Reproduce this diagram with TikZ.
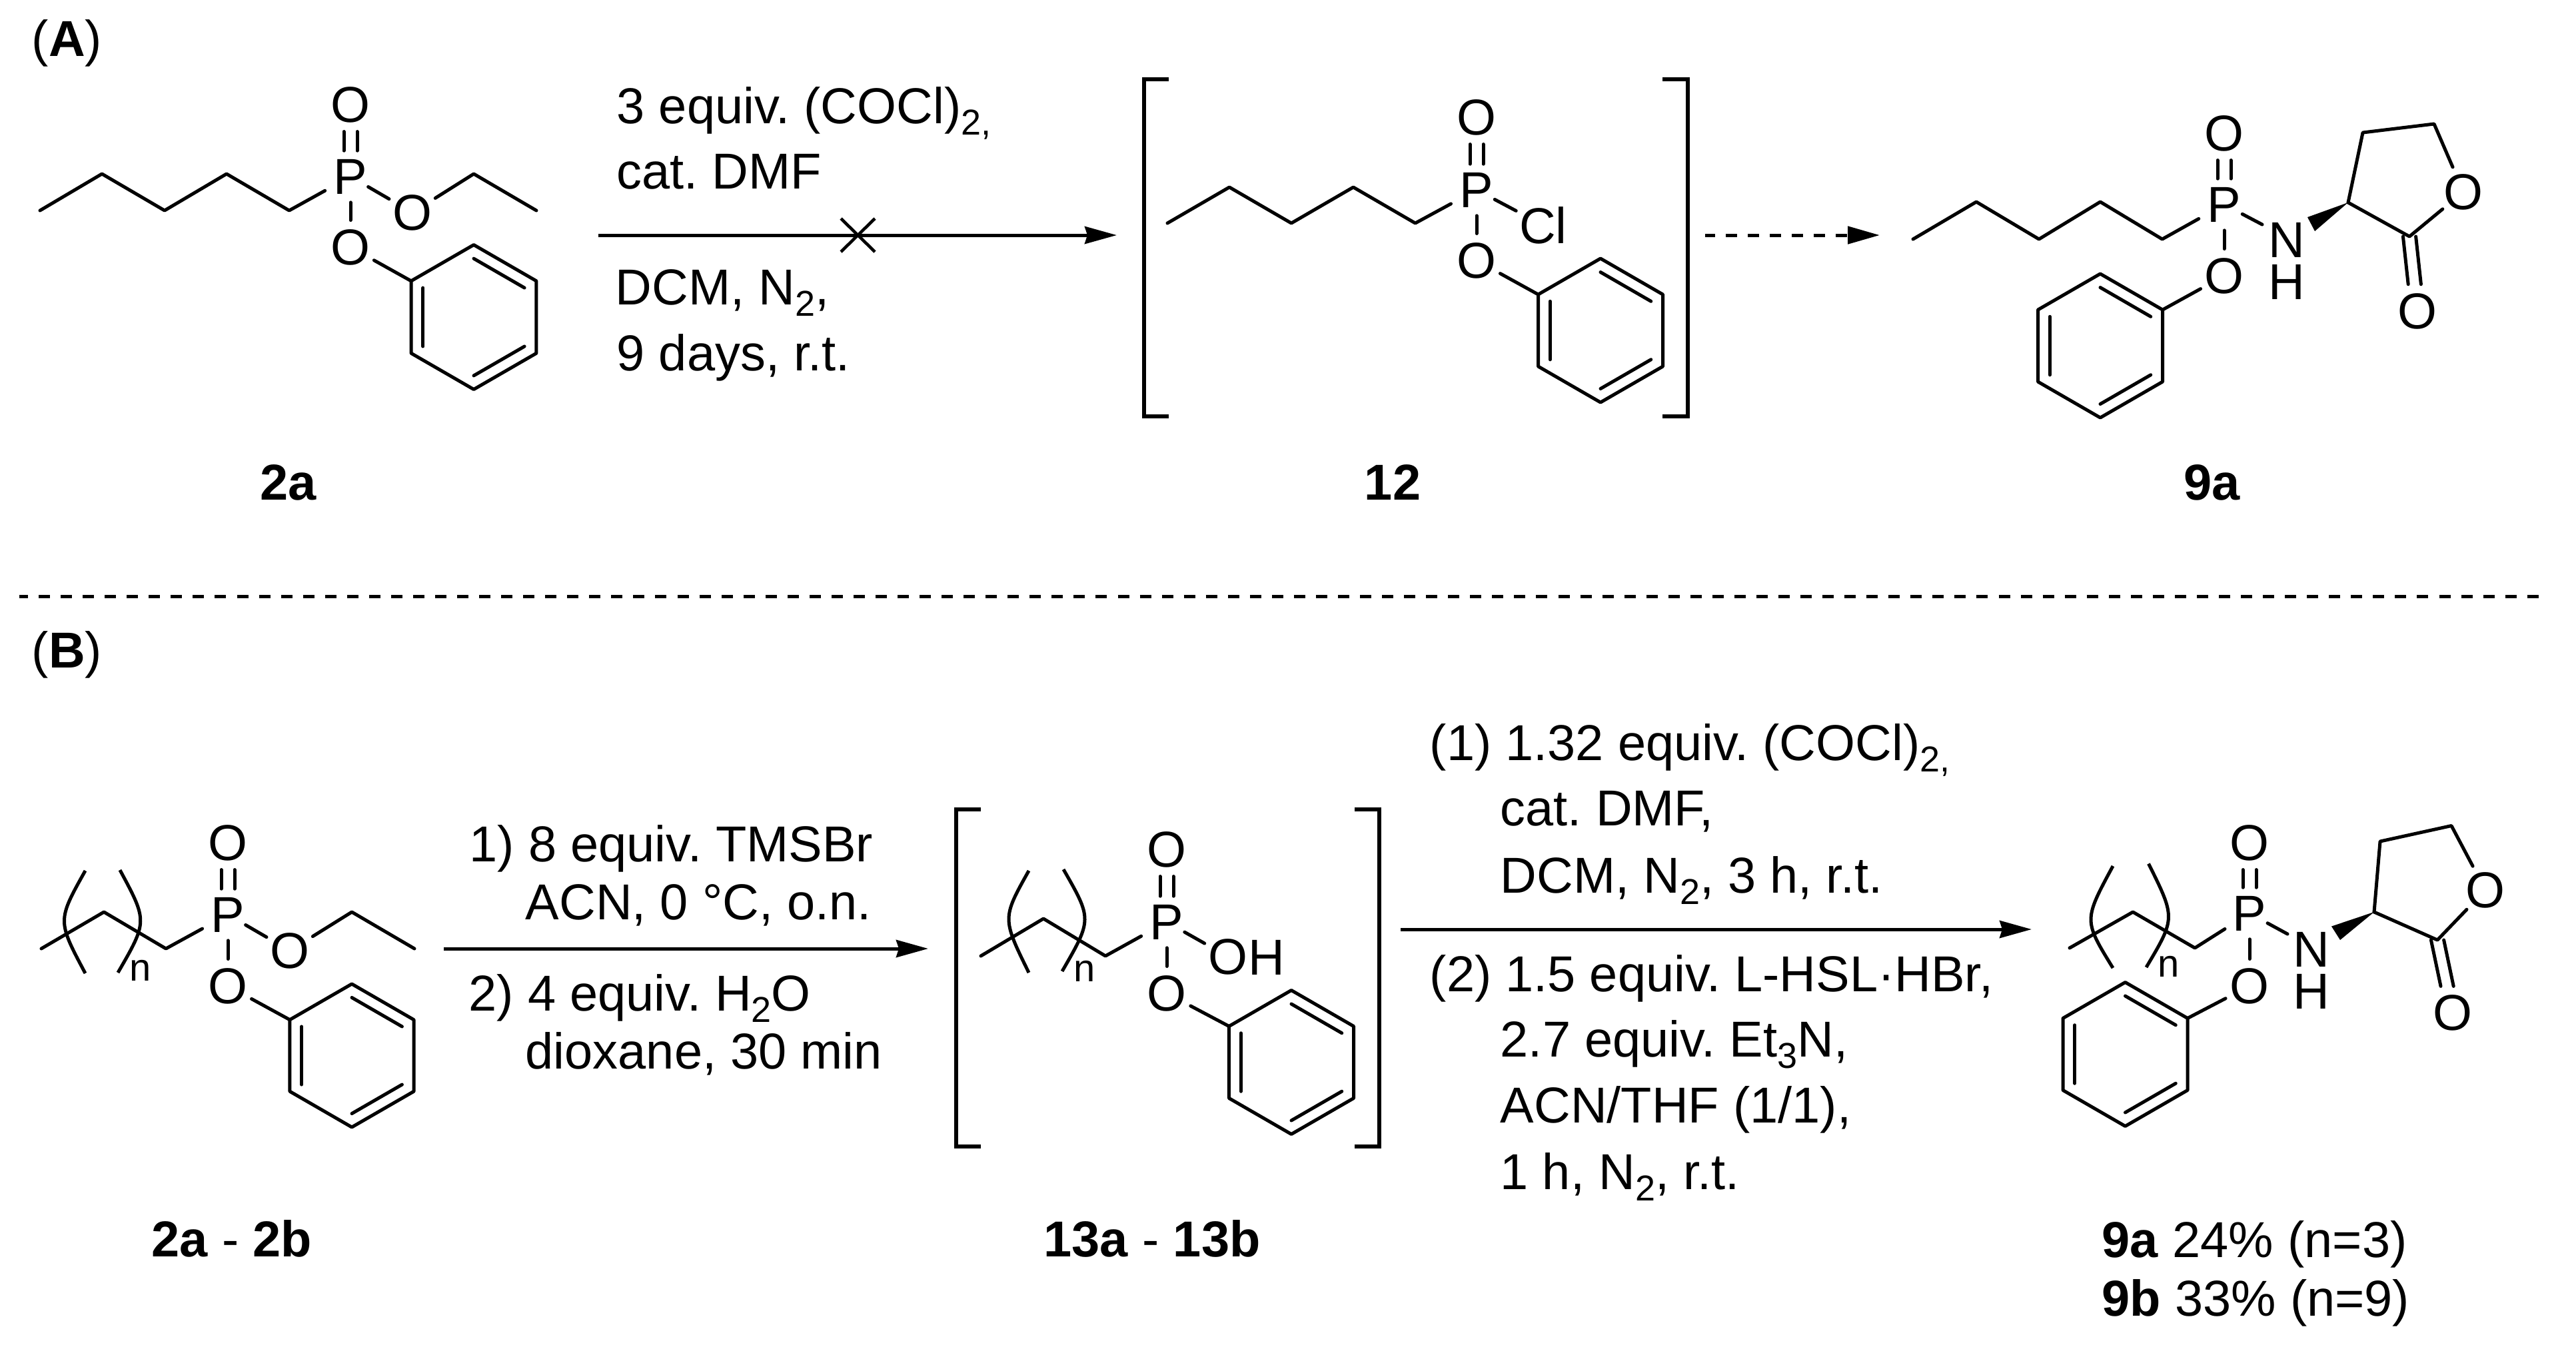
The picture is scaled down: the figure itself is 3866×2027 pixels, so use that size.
\documentclass[tikz,border=0pt]{standalone}
\usepackage{fontspec}
\setmainfont{Liberation Sans}
\usetikzlibrary{arrows.meta,calc}
\frenchspacing
\newcommand\lowidx[1]{\raisebox{-4.25pt}{\fontsize{13.5}{16}\selectfont #1}}
\newcommand\benzene[4]{%
  \coordinate (#1c) at (#2,#3);
  \coordinate (#1t) at ({#2},{#3-#4});
  \coordinate (#1ur) at ({#2+0.866*#4},{#3-0.5*#4});
  \coordinate (#1lr) at ({#2+0.866*#4},{#3+0.5*#4});
  \coordinate (#1b) at ({#2},{#3+#4});
  \coordinate (#1ll) at ({#2-0.866*#4},{#3+0.5*#4});
  \coordinate (#1ul) at ({#2-0.866*#4},{#3-0.5*#4});
  \draw[bond] (#1ul) -- (#1t) -- (#1ur) -- (#1lr) -- (#1b) -- (#1ll) -- cycle;
  \draw[bond] ($(#1c)!.81!(#1t)$) -- ($(#1c)!.81!(#1ur)$);
  \draw[bond] ($(#1c)!.81!(#1lr)$) -- ($(#1c)!.81!(#1b)$);
  \draw[bond] ($(#1c)!.81!(#1ll)$) -- ($(#1c)!.81!(#1ul)$);
}
\tikzset{
  every node/.style={font=\fontsize{18.95}{22}\selectfont,inner sep=0pt,text=black},
  bond/.style={line width=1.25pt,line cap=round,line join=round},
  atom/.style={circle,minimum size=19pt,inner sep=0pt},
  nhgroup/.style={align=center,font=\fontsize{18.95}{15.7}\selectfont},
  rgt/.style={anchor=base west},
  lbl/.style={anchor=base},
  idx/.style={anchor=base west,font=\fontsize{14.5}{17}\selectfont},
  toP/.style={shorten >=1.25pt},
  fromP/.style={shorten <=-2pt},
  brack/.style={line width=1.4pt,line cap=butt,line join=miter},
  rxn/.style={line width=1.25pt,-{Stealth[length=12pt,width=6.5pt,inset=1pt]}},
}
\begin{document}
\begin{tikzpicture}[x=0.25pt,y=-0.25pt]
\useasboundingbox (0,0) rectangle (3866,2027);
\fill[white] (0,0) rectangle (3866,2027);

% Panel labels and separator
\node[rgt] (labA) at (47,84) {(\textbf{A})};
\node[rgt] (labB) at (47,1002) {(\textbf{B})};
\coordinate (sepL) at (29,895);
\coordinate (sepR) at (3811,895);
\draw[line width=1.25pt,dash pattern=on 4.25pt off 4.0125pt,dash phase=1pt] (sepL) -- (sepR);

% ---------- 2a ----------
\node[atom] (aP) at (526,265) {P};
\node[atom] (aO1) at (526,157) {O};
\node[atom] (aO2) at (619,319) {O};
\node[atom] (aO3) at (526,371) {O};
\coordinate (a1) at (60,316); \coordinate (a2) at (153,261); \coordinate (a3) at (247,316);
\coordinate (a4) at (340,261); \coordinate (a5) at (434,316);
\coordinate (a6) at (711,261); \coordinate (a7) at (805,316);
\draw[bond,toP] (a1) -- (a2) -- (a3) -- (a4) -- (a5) -- (aP);
\draw[bond] ([xshift=-2.5pt]aO1.south) -- ([xshift=-2.5pt]aP.north);
\draw[bond] ([xshift=2.5pt]aO1.south) -- ([xshift=2.5pt]aP.north);
\draw[bond,fromP] (aP) -- (aO2);
\draw[bond] (aO2) -- (a6) -- (a7);
\draw[bond] (aP) -- (aO3);
\benzene{ar}{711}{476}{108.5}
\draw[bond] (aO3) -- (arul);
\node[lbl] (l2a) at (433,750) {\textbf{2a}};

% Reagents A
\node[rgt] (ta1) at (925,185) {3 equiv. (COCl)\lowidx{2,}};
\node[rgt] (ta2) at (925,283) {cat. DMF};
\node[rgt] (ta3) at (923,457) {DCM, N\lowidx{2},};
\node[rgt] (ta4) at (925,556) {9 days, r.t.};
\coordinate (arrAs) at (898,353); \coordinate (arrAe) at (1676,353);
\draw[rxn] (arrAs) -- (arrAe);
\coordinate (xa) at (1262,328); \coordinate (xb) at (1313,378);
\coordinate (xc) at (1313,328); \coordinate (xd) at (1262,378);
\draw[line width=1.15pt] (xa) -- (xb);
\draw[line width=1.15pt] (xc) -- (xd);

% ---------- 12 ----------
\draw[brack] (1754,119) -- (1717,119) -- (1717,625) -- (1754,625);
\draw[brack] (2495,119) -- (2533,119) -- (2533,625) -- (2495,625);
\node[atom] (bP) at (2216,285) {P};
\node[atom] (bO1) at (2216,176) {O};
\node[atom] (bCl) at (2316,338) {Cl};
\node[atom] (bO3) at (2216,391) {O};
\coordinate (b1) at (1752,335); \coordinate (b2) at (1845,281); \coordinate (b3) at (1938,335);
\coordinate (b4) at (2031,281); \coordinate (b5) at (2124,335);
\draw[bond,toP] (b1) -- (b2) -- (b3) -- (b4) -- (b5) -- (bP);
\draw[bond] ([xshift=-2.5pt]bO1.south) -- ([xshift=-2.5pt]bP.north);
\draw[bond] ([xshift=2.5pt]bO1.south) -- ([xshift=2.5pt]bP.north);
\draw[bond,fromP] (bP) -- (bCl);
\draw[bond] (bP) -- (bO3);
\benzene{br}{2402}{496}{108}
\draw[bond] (bO3) -- (brul);
\node[lbl] (l12) at (2090,750) {\textbf{12}};

% Dashed arrow
\coordinate (arrDs) at (2559,353); \coordinate (arrDe) at (2821,353);
\draw[line width=1.25pt,dash pattern=on 4.25pt off 4pt,dash phase=0.5pt,-{Stealth[length=12pt,width=6.5pt,inset=0pt]}] (arrDs) -- (arrDe);

% ---------- 9a ----------
\node[atom] (cP) at (3338,307) {P};
\node[atom] (cO1) at (3338,200) {O};
\node[atom] (cO3) at (3338,414) {O};
\node[nhgroup] (cNH) at (3432,392) {N\\H};
\coordinate (cNb) at (3395,337);
\coordinate (c1) at (2871,359); \coordinate (c2) at (2966,303); \coordinate (c3) at (3060,359);
\coordinate (c4) at (3152,303); \coordinate (c5) at (3245,359);
\draw[bond,toP] (c1) -- (c2) -- (c3) -- (c4) -- (c5) -- (cP);
\draw[bond] ([xshift=-2.5pt]cO1.south) -- ([xshift=-2.5pt]cP.north);
\draw[bond] ([xshift=2.5pt]cO1.south) -- ([xshift=2.5pt]cP.north);
\draw[bond,fromP] (cP) -- (cNb);
\draw[bond] (cP) -- (cO3);
\benzene{cr}{3152}{519}{108}
\draw[bond] (cO3) -- (crur);
\coordinate (cs) at (3524,304); \coordinate (cw1) at (3463,326); \coordinate (cw2) at (3474,347);
\fill (cs) -- (cw1) -- (cw2) -- cycle;
\node[atom] (cOr) at (3697,288) {O};
\node[atom] (cOc) at (3628,467) {O};
\coordinate (cl1) at (3546,199); \coordinate (cl2) at (3653,186); \coordinate (cco) at (3616,355);
\draw[bond] (cs) -- (cl1) -- (cl2) -- (cOr);
\draw[bond] (cOr) -- (cco) -- (cs);
\draw[bond] ([xshift=-2.4pt]cco) -- ([xshift=-2.4pt]cOc.96);
\draw[bond] ([xshift=2.4pt]cco) -- ([xshift=2.4pt]cOc.96);
\node[lbl] (l9a) at (3320,750) {\textbf{9a}};

% ---------- 2a-2b ----------
\node[atom] (dP) at (342,1373) {P};
\node[atom] (dO1) at (342,1265) {O};
\node[atom] (dO2) at (435,1427) {O};
\node[atom] (dO3) at (342,1480) {O};
\coordinate (d1) at (62,1424); \coordinate (d2) at (156,1369); \coordinate (d3) at (249,1424);
\coordinate (d6) at (528,1369); \coordinate (d7) at (622,1424);
\draw[bond,toP] (d1) -- (d2) -- (d3) -- (dP);
\draw[bond] ([xshift=-2.5pt]dO1.south) -- ([xshift=-2.5pt]dP.north);
\draw[bond] ([xshift=2.5pt]dO1.south) -- ([xshift=2.5pt]dP.north);
\draw[bond,fromP] (dP) -- (dO2);
\draw[bond] (dO2) -- (d6) -- (d7);
\draw[bond] (dP) -- (dO3);
\benzene{dr}{528}{1584.5}{107.5}
\draw[bond] (dO3) -- (drul);
\draw[bond,line cap=butt] (128,1307) .. controls (86,1382) .. (128,1461);
\draw[bond,line cap=butt] (180,1306) .. controls (221.5,1383) .. (177,1460);
\node[idx] (dn) at (194,1472) {n};
\node[lbl] (l2ab) at (348,1886) {\textbf{2a} - \textbf{2b}};

% Reagents B1
\node[rgt] (tb1) at (704,1293) {1) 8 equiv. TMSBr};
\node[rgt] (tb2) at (788,1380) {ACN, 0 °C, o.n.};
\node[rgt] (tb3) at (703,1517) {2) 4 equiv. H\lowidx{2}O};
\node[rgt] (tb4) at (788,1604) {dioxane, 30 min};
\coordinate (arrBs) at (666,1424); \coordinate (arrBe) at (1393,1424);
\draw[rxn] (arrBs) -- (arrBe);

% ---------- 13a-13b ----------
\draw[brack] (1472,1215) -- (1435,1215) -- (1435,1721) -- (1472,1721);
\draw[brack] (2033,1215) -- (2070,1215) -- (2070,1721) -- (2033,1721);
\node[atom] (eP) at (1751,1384) {P};
\node[atom] (eO1) at (1751,1275) {O};
\node[atom] (eO2) at (1843,1436) {O};
\node[anchor=base west] (eH) at (1873,1463) {H};
\node[atom] (eO3) at (1751,1491) {O};
\coordinate (e1) at (1472,1435); \coordinate (e2) at (1566,1379); \coordinate (e3) at (1659,1435);
\draw[bond,toP] (e1) -- (e2) -- (e3) -- (eP);
\draw[bond] ([xshift=-2.5pt]eO1.south) -- ([xshift=-2.5pt]eP.north);
\draw[bond] ([xshift=2.5pt]eO1.south) -- ([xshift=2.5pt]eP.north);
\draw[bond,fromP] (eP) -- (eO2);
\draw[bond] (eP) -- (eO3);
\benzene{er}{1938}{1594.5}{108}
\draw[bond] (eO3) -- (erul);
\draw[bond,line cap=butt] (1544,1307) .. controls (1504,1378.5) .. (1544,1460);
\draw[bond,line cap=butt] (1596,1305) .. controls (1639,1380) .. (1594,1458);
\node[idx] (en) at (1611,1473) {n};
\node[lbl] (l13) at (1729,1886) {\textbf{13a} - \textbf{13b}};

% Reagents B2
\node[rgt] (tc1) at (2145,1141) {(1) 1.32 equiv. (COCl)\lowidx{2,}};
\node[rgt] (tc2) at (2251,1239) {cat. DMF,};
\node[rgt] (tc3) at (2251,1340) {DCM, N\lowidx{2}, 3 h, r.t.};
\node[rgt] (tc4) at (2145,1488) {(2) 1.5 equiv. L-HSL·HBr,};
\node[rgt] (tc5) at (2251,1586) {2.7 equiv. Et\lowidx{3}N,};
\node[rgt] (tc6) at (2251,1685) {ACN/THF (1/1),};
\node[rgt] (tc7) at (2251,1785) {1 h, N\lowidx{2}, r.t.};
\coordinate (arrCs) at (2102,1395); \coordinate (arrCe) at (3049,1395);
\draw[rxn] (arrCs) -- (arrCe);

% ---------- 9a-9b ----------
\node[atom] (fP) at (3376,1371) {P};
\node[atom] (fO1) at (3376,1265) {O};
\node[atom] (fO3) at (3376,1480) {O};
\node[nhgroup] (fNH) at (3469,1456.5) {N\\H};
\coordinate (fNb) at (3433,1402);
\coordinate (f1) at (3106,1423); \coordinate (f2) at (3201,1369); \coordinate (f3) at (3294,1423);
\draw[bond,toP] (f1) -- (f2) -- (f3) -- (fP);
\draw[bond] ([xshift=-2.5pt]fO1.south) -- ([xshift=-2.5pt]fP.north);
\draw[bond] ([xshift=2.5pt]fO1.south) -- ([xshift=2.5pt]fP.north);
\draw[bond,fromP] (fP) -- (fNb);
\draw[bond] (fP) -- (fO3);
\benzene{fr}{3189.5}{1582.5}{108}
\draw[bond] (fO3) -- (frur);
\coordinate (fs) at (3563,1369); \coordinate (fw1) at (3499,1390.5); \coordinate (fw2) at (3512,1411);
\fill (fs) -- (fw1) -- (fw2) -- cycle;
\node[atom] (fOr) at (3730,1336) {O};
\node[atom] (fOc) at (3681,1520) {O};
\coordinate (fl1) at (3572,1263); \coordinate (fl2) at (3679,1239.5); \coordinate (fco) at (3658,1411);
\draw[bond] (fs) -- (fl1) -- (fl2) -- (fOr);
\draw[bond] (fOr) -- (fco) -- (fs);
\draw[bond] ([xshift=-2.4pt]fco) -- ([xshift=-2.4pt]fOc.102);
\draw[bond] ([xshift=2.4pt]fco) -- ([xshift=2.4pt]fOc.102);
\draw[bond,line cap=butt] (3171,1300) .. controls (3127,1381.5) .. (3171,1453);
\draw[bond,line cap=butt] (3224.5,1296.5) .. controls (3265,1378) .. (3221,1452);
\node[idx] (fn) at (3238,1466) {n};
\node[rgt] (y9a) at (3154,1887) {\textbf{9a} 24\% (n=3)};
\node[rgt] (y9b) at (3154,1975) {\textbf{9b} 33\% (n=9)};
\end{tikzpicture}
\end{document}
